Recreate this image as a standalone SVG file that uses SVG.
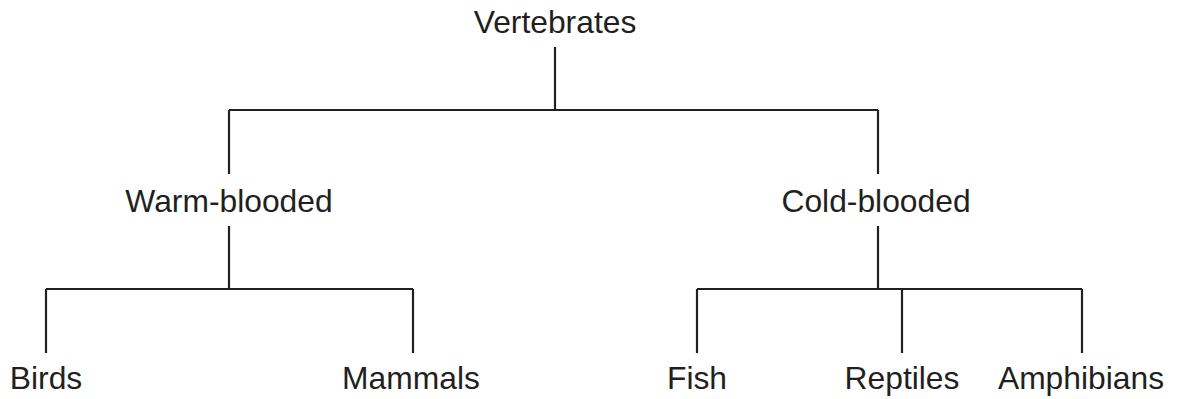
<svg xmlns="http://www.w3.org/2000/svg" width="1183" height="399" viewBox="0 0 1183 399">
<style>
text{font-family:"Liberation Sans",Arial,sans-serif;font-size:31.8px;fill:#231f20;text-anchor:middle}
.c line{stroke:#231f20;stroke-width:2.2;fill:none}
</style>
<rect width="1183" height="399" fill="#fff"/>
<g class="c" id="connectors">
<line x1="555" y1="47" x2="555" y2="110"/>
<line x1="229" y1="110" x2="878" y2="110"/>
<line x1="229" y1="110" x2="229" y2="174"/>
<line x1="878" y1="110" x2="878" y2="174"/>
<line x1="229" y1="226" x2="229" y2="289"/>
<line x1="46" y1="289" x2="413" y2="289"/>
<line x1="46" y1="289" x2="46" y2="353"/>
<line x1="413" y1="289" x2="413" y2="353"/>
<line x1="878" y1="226" x2="878" y2="289"/>
<line x1="697" y1="289" x2="1082" y2="289"/>
<line x1="697" y1="289" x2="697" y2="353"/>
<line x1="902" y1="289" x2="902" y2="353"/>
<line x1="1082" y1="289" x2="1082" y2="353"/>
</g>
<g id="vertebrates"><text x="555" y="33">Vertebrates</text></g>
<g id="warm"><text x="229" y="212">Warm-blooded</text></g>
<g id="cold"><text x="876" y="212">Cold-blooded</text></g>
<g id="birds"><text x="46" y="389">Birds</text></g>
<g id="mammals"><text x="411" y="389">Mammals</text></g>
<g id="fish"><text x="697" y="389">Fish</text></g>
<g id="reptiles"><text x="902" y="389">Reptiles</text></g>
<g id="amphibians"><text x="1081" y="389">Amphibians</text></g>
</svg>
